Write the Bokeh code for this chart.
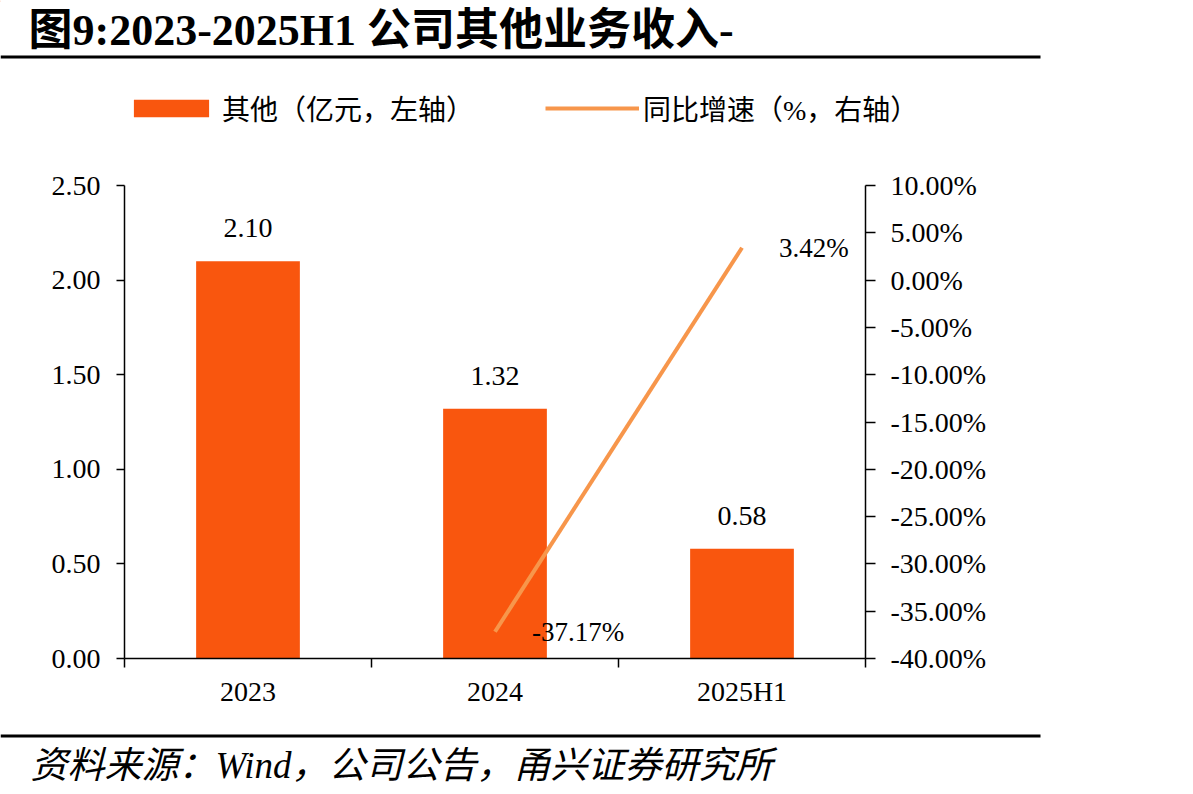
from bokeh.plotting import figure
from bokeh.layouts import column
from bokeh.models import (Range1d, LinearAxis, FixedTicker, Label, BoxAnnotation,
                          Legend, LegendItem, PrintfTickFormatter, NumeralTickFormatter)
from bokeh.core.properties import value
from bokeh.embed import file_html
from bokeh.resources import INLINE

# ---- data ----
categories = ["2023", "2024", "2025H1"]
other_revenue = [2.10, 1.32, 0.58]          # 其他（亿元）
growth_years = ["2024", "2025H1"]
growth_pct = [-37.17, 3.42]                 # 同比增速（%）
left_ticks = [0.0, 0.5, 1.0, 1.5, 2.0, 2.5]
right_ticks = [-40, -35, -30, -25, -20, -15, -10, -5, 0, 5, 10]

BAR_COLOR = "#F9560E"
LINE_COLOR = "#F7964B"
SERIF = "Liberation Serif, Noto Sans CJK SC"
TICK_PX = "28px"
W = 1193
HEAD_H, MAIN_H, FOOT_H = 150, 570, 74

xs = list(range(len(categories)))
gx = [categories.index(c) for c in growth_years]


def blank_panel(h):
    """A figure whose frame fills its canvas, with y measured downward in pixels."""
    f = figure(width=W, height=h, output_backend="svg", toolbar_location=None,
               x_range=Range1d(0, W), y_range=Range1d(h, 0),
               x_axis_location=None, y_axis_location=None,
               min_border=0)
    f.frame_align = False
    f.outline_line_color = None
    f.xgrid.visible = False
    f.ygrid.visible = False
    return f


# ---- main chart ----
p = figure(width=W, height=MAIN_H, output_backend="svg", toolbar_location=None,
           x_range=Range1d(-0.5, len(categories) - 0.5), y_range=Range1d(0, 2.5),
           x_axis_location=None, y_axis_location=None,
           min_border_left=124, min_border_right=328,
           min_border_top=35, min_border_bottom=62)
p.frame_align = False
p.outline_line_color = None
p.xgrid.visible = False
p.ygrid.visible = False
p.extra_y_ranges = {"pct": Range1d(-40, 10)}


def style_axis(ax):
    ax.axis_line_color = "black"
    ax.axis_line_width = 1.5
    ax.major_tick_line_color = "black"
    ax.major_tick_line_width = 1.5
    ax.minor_tick_line_color = "black"
    ax.minor_tick_line_width = 1.5
    ax.major_label_text_font = SERIF
    ax.major_label_text_font_size = TICK_PX
    ax.major_label_text_color = "black"


# category axis: ticks on the boundaries, labels at the centres
xaxis = LinearAxis(ticker=FixedTicker(ticks=xs, minor_ticks=[i - 0.5 for i in range(len(categories) + 1)]),
                   major_label_overrides={i: c for i, c in enumerate(categories)})
style_axis(xaxis)
xaxis.major_tick_in = 0
xaxis.major_tick_out = 0
xaxis.minor_tick_in = 0
xaxis.minor_tick_out = 9
xaxis.major_label_standoff = 8
p.add_layout(xaxis, "below")

yaxis = LinearAxis(ticker=FixedTicker(ticks=left_ticks), formatter=NumeralTickFormatter(format="0.00"))
style_axis(yaxis)
yaxis.major_tick_in = 0
yaxis.major_tick_out = 8
yaxis.minor_tick_in = 0
yaxis.minor_tick_out = 0
yaxis.major_label_standoff = 16
p.add_layout(yaxis, "left")

raxis = LinearAxis(y_range_name="pct", ticker=FixedTicker(ticks=right_ticks),
                   formatter=PrintfTickFormatter(format="%.2f%%"))
style_axis(raxis)
raxis.major_tick_in = 0
raxis.major_tick_out = 10
raxis.minor_tick_in = 0
raxis.minor_tick_out = 0
raxis.major_label_standoff = 15
p.add_layout(raxis, "right")

# bars and their value labels
bars = p.vbar(x=xs, top=other_revenue, width=0.42, fill_color=BAR_COLOR, line_color=None)
p.text(x=xs, y=other_revenue, text=["%.2f" % v for v in other_revenue],
       y_offset=-33, text_align="center", text_baseline="middle",
       text_font=value("Liberation Serif"), text_font_size=TICK_PX, text_color="black")

# growth line and its labels
growth = p.line(x=gx, y=growth_pct, y_range_name="pct", line_color=LINE_COLOR, line_width=4)
p.text(x=gx, y=growth_pct, y_range_name="pct", text=["%.2f%%" % v for v in growth_pct],
       x_offset=37, text_align="left", text_baseline="middle",
       text_font=value("Liberation Serif"), text_font_size="27px", text_color="black")

# ---- header: title, rule and legend ----
head = blank_panel(HEAD_H)
head.add_layout(Label(x=28, y=30, text="图9:2023-2025H1 公司其他业务收入-", text_font=SERIF,
                      text_font_size="44px", text_font_style="bold", text_color="black",
                      text_baseline="middle"))
head.add_layout(BoxAnnotation(left=0, right=1040, top=55, bottom=58,
                              fill_color="black", fill_alpha=1, line_color=None))
# key glyphs sit off the visible range; only their legend swatches show
key_bar = head.vbar(x=[-500], top=[1], width=1, fill_color=BAR_COLOR, line_color=None)
key_line = head.line(x=[-600, -500], y=[1, 1], line_color=LINE_COLOR, line_width=4)
legend = Legend(items=[LegendItem(label="其他（亿元，左轴）", renderers=[key_bar]),
                       LegendItem(label="同比增速（%，右轴）", renderers=[key_line])],
                orientation="horizontal", location=(124, 22),
                glyph_width=94, glyph_height=22, label_standoff=4, spacing=71,
                padding=0, margin=0, border_line_color=None, background_fill_alpha=0,
                label_text_font=SERIF, label_text_font_size="28px", label_text_color="black")
head.add_layout(legend, "center")

# ---- footer: rule and source note ----
foot = blank_panel(FOOT_H)
foot.add_layout(BoxAnnotation(left=0, right=1040, top=14, bottom=17,
                              fill_color="black", fill_alpha=1, line_color=None))
foot.add_layout(Label(x=30, y=45, text="资料来源：Wind，公司公告，甬兴证券研究所", text_font=SERIF,
                      text_font_size="37px", text_font_style="italic", text_color="black",
                      text_baseline="middle"))

layout = column(head, p, foot, spacing=0)
open("out.html", "w").write(file_html(layout, INLINE))
